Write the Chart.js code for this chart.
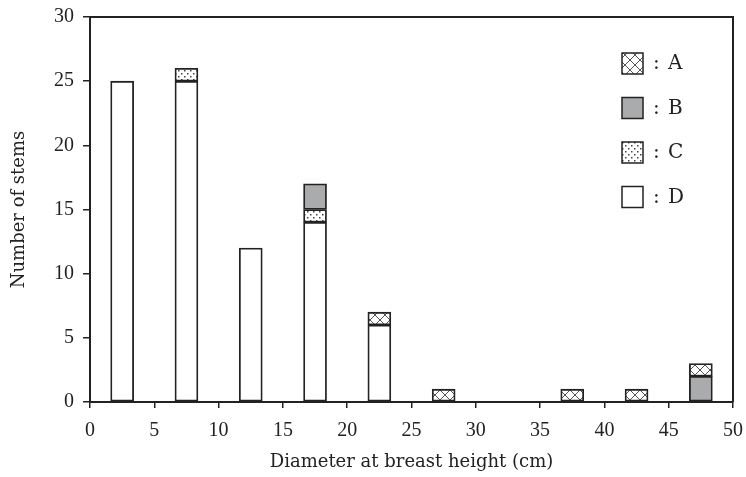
<!DOCTYPE html>
<html>
<head>
<meta charset="utf-8">
<script src="https://cdn.jsdelivr.net/npm/chart.js@4"></script>
<style>
  html, body { margin: 0; padding: 0; background: #fff; }
  #wrap { width: 746px; height: 477px; }
</style>
</head>
<body>
<div id="wrap"><canvas id="stemChart" width="746" height="477"></canvas></div>
<script>
// class midpoints (cm) and stem counts per category
const classMid = [2.5, 7.5, 12.5, 17.5, 22.5, 27.5, 32.5, 37.5, 42.5, 47.5];
const seriesD = [25, 25, 12, 14, 6, 0, 0, 0, 0, 0];
const seriesC = [0, 1, 0, 1, 0, 0, 0, 0, 0, 0];
const seriesB = [0, 0, 0, 2, 0, 0, 0, 0, 0, 2];
const seriesA = [0, 0, 0, 0, 1, 1, 0, 1, 1, 1];
const legendLabels = ['A', 'B', 'C', 'D'];
const xTicks = [0, 5, 10, 15, 20, 25, 30, 35, 40, 45, 50];
const yTicks = [0, 5, 10, 15, 20, 25, 30];

const FONT = '"Liberation Serif", "DejaVu Serif", serif';
const TITLE_FONT = '"DejaVu Serif", serif';
const INK = '#222';

function crossPattern() {
    const c = document.createElement('canvas');
    c.width = 10; c.height = 10;
    const g = c.getContext('2d');
    g.fillStyle = '#fff';
    g.fillRect(0, 0, 10, 10);
    g.strokeStyle = '#555';
    g.lineWidth = 1;
    g.beginPath();
    g.moveTo(0, 0); g.lineTo(10, 10);
    g.moveTo(10, 0); g.lineTo(0, 10);
    g.stroke();
    return g.createPattern(c, 'repeat');
}

function dotPattern() {
    const c = document.createElement('canvas');
    c.width = 6; c.height = 6;
    const g = c.getContext('2d');
    g.fillStyle = '#fff';
    g.fillRect(0, 0, 6, 6);
    g.fillStyle = '#444';
    g.fillRect(1, 1, 1.5, 1.5);
    g.fillRect(4, 4, 1.5, 1.5);
    return g.createPattern(c, 'repeat');
}

const toPoints = arr => classMid.map((x, i) => ({ x: x, y: arr[i] }));

const barStyle = {
    borderColor: INK,
    borderWidth: 1.8,
    borderSkipped: false,
    barThickness: 23
};

// frame on top/right plus legend inside plot
const framePlugin = {
    id: 'frame',
    afterDraw(chart) {
        const { ctx, chartArea } = chart;
        ctx.save();
        ctx.strokeStyle = INK;
        ctx.lineWidth = 2;
        ctx.beginPath();
        ctx.moveTo(chartArea.left, chartArea.top);
        ctx.lineTo(chartArea.right, chartArea.top);
        ctx.lineTo(chartArea.right, chartArea.bottom);
        ctx.stroke();

        // legend, A on top
        const order = [3, 2, 1, 0];
        ctx.font = '20px ' + TITLE_FONT;
        ctx.textBaseline = 'middle';
        order.forEach((di, k) => {
            const ds = chart.data.datasets[di];
            const bx = 622, by = 53 + k * 44.5;
            ctx.fillStyle = ds.backgroundColor;
            ctx.fillRect(bx, by, 21, 21);
            ctx.lineWidth = 1.5;
            ctx.strokeStyle = INK;
            ctx.strokeRect(bx, by, 21, 21);
            ctx.fillStyle = INK;
            ctx.fillText(':', 653, by + 11);
            ctx.fillText(legendLabels[k], 668, by + 11);
        });
        ctx.restore();
    }
};

const ctx = document.getElementById('stemChart').getContext('2d');

new Chart(ctx, {
    type: 'bar',
    data: {
        datasets: [
            { label: 'D', data: toPoints(seriesD), backgroundColor: '#ffffff', ...barStyle },
            { label: 'C', data: toPoints(seriesC), backgroundColor: dotPattern(), ...barStyle },
            { label: 'B', data: toPoints(seriesB), backgroundColor: '#aaabad', ...barStyle },
            { label: 'A', data: toPoints(seriesA), backgroundColor: crossPattern(), ...barStyle }
        ]
    },
    options: {
        responsive: false,
        animation: false,
        layout: { padding: { top: 17, right: 13, left: 0, bottom: 0 } },
        plugins: {
            legend: { display: false },
            tooltip: { enabled: false }
        },
        scales: {
            x: {
                type: 'linear',
                stacked: true,
                offset: false,
                min: 0,
                max: 50,
                afterBuildTicks: s => { s.ticks = xTicks.map(v => ({ value: v })); },
                afterFit: s => { s.height = 75; s.paddingRight = 0; s.paddingLeft = 0; },
                ticks: { color: INK, font: { family: FONT, size: 20 }, padding: 11, maxRotation: 0 },
                grid: { display: true, offset: false, drawOnChartArea: false, drawTicks: true, tickLength: 6, color: INK, lineWidth: 1.5 },
                border: { display: true, color: INK, width: 2 },
                title: { display: true, text: 'Diameter at breast height (cm)', color: INK, font: { family: TITLE_FONT, size: 18 }, padding: { top: 4, bottom: 4 } }
            },
            y: {
                stacked: true,
                min: 0,
                max: 30,
                afterBuildTicks: s => { s.ticks = yTicks.map(v => ({ value: v })); },
                afterFit: s => { s.width = 90; s.paddingTop = 0; s.paddingBottom = 0; },
                ticks: { color: INK, font: { family: FONT, size: 20 }, padding: 9 },
                grid: { display: true, drawOnChartArea: false, drawTicks: true, tickLength: 7, color: INK, lineWidth: 1.5 },
                border: { display: true, color: INK, width: 2 },
                title: { display: true, text: 'Number of stems', color: INK, font: { family: TITLE_FONT, size: 18 }, padding: { top: 9, bottom: 8 } }
            }
        }
    },
    plugins: [framePlugin]
});
</script>
</body>
</html>
